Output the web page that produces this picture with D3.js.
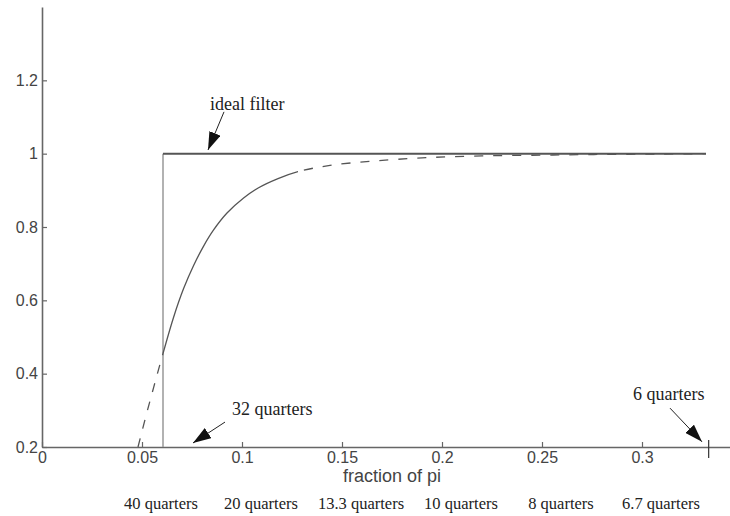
<!DOCTYPE html>
<html>
<head>
<meta charset="utf-8">
<script src="https://cdn.jsdelivr.net/npm/d3@7"></script>
<style>
  body { margin: 0; background: #fff; }
  svg { display: block; }
  .tick text { font-family: "Liberation Sans", Arial, sans-serif; font-size: 16px; fill: #444; }
  .note { font-family: "Liberation Serif", "Times New Roman", serif; font-size: 18px; fill: #222; }
  .period { font-size: 16.5px; }
</style>
</head>
<body>
<div id="graph"></div>
<script>
// Data
const freq = [0.048, 0.052, 0.0558, 0.0605, 0.0658, 0.0708, 0.0758, 0.0808, 0.0858, 0.0925, 0.1008, 0.1083, 0.118, 0.128, 0.144, 0.166, 0.192, 0.22, 0.25, 0.28, 0.31, 0.332];
const gain = [0.2, 0.285, 0.362, 0.455, 0.554, 0.632, 0.695, 0.748, 0.792, 0.838, 0.879, 0.907, 0.932, 0.951, 0.968, 0.980, 0.989, 0.994, 0.996, 0.998, 0.999, 1.0];
const idealFreq = [0.0605, 0.0605, 0.332];
const idealGain = [0.2, 1, 1];
const xTicks = [0, 0.05, 0.1, 0.15, 0.2, 0.25, 0.3];
const yTicks = [0.2, 0.4, 0.6, 0.8, 1, 1.2];
const periodFreq = [0.05, 0.1, 0.15, 0.2, 0.25, 0.3];
const periodLabels = ["40 quarters", "20 quarters", "13.3 quarters", "10 quarters", "8 quarters", "6.7 quarters"];
const solidFrom = 0.0605, solidTo = 0.128;

const W = 730, H = 516;
const margin = { top: 7, right: -12, bottom: 69, left: 42 };
const width = W - margin.left - margin.right;
const height = H - margin.top - margin.bottom;

const svg = d3.select("#graph")
  .append("svg")
  .attr("width", W)
  .attr("height", H);

const defs = svg.append("defs");
defs.append("marker")
  .attr("id", "head")
  .attr("markerUnits", "userSpaceOnUse")
  .attr("markerWidth", 18)
  .attr("markerHeight", 12)
  .attr("refX", 18)
  .attr("refY", 6)
  .attr("orient", "auto")
  .append("path")
  .attr("d", "M0,0L18,6L0,12Z")
  .attr("fill", "#111");

const g = svg.append("g")
  .attr("transform", `translate(${margin.left},${margin.top})`);

// Scales
const x = d3.scaleLinear().domain([0, 0.35]).range([0, width]);
const y = d3.scaleLinear().domain([0.2, 1.4]).range([height, 0]);

// Clip regions: solid part in the middle, dashed on both sides
const solidClip = defs.append("clipPath").attr("id", "solid");
solidClip.append("rect")
  .attr("x", margin.left + x(solidFrom)).attr("y", 0)
  .attr("width", x(solidTo) - x(solidFrom)).attr("height", H);
const dashClip = defs.append("clipPath").attr("id", "dash");
dashClip.append("rect")
  .attr("x", 0).attr("y", 0)
  .attr("width", margin.left + x(solidFrom)).attr("height", H);
dashClip.append("rect")
  .attr("x", margin.left + x(solidTo)).attr("y", 0)
  .attr("width", W).attr("height", H);

// Axes (ticks pointing inward)
const xAxis = g.append("g")
  .attr("transform", `translate(0,${height})`)
  .call(d3.axisBottom(x).tickValues(xTicks).tickFormat(d => String(d))
    .tickSizeInner(-5).tickSizeOuter(0).tickPadding(5));

const yAxis = g.append("g")
  .call(d3.axisLeft(y).tickValues(yTicks).tickFormat(d => String(d))
    .tickSizeInner(-5).tickSizeOuter(0).tickPadding(4));

[xAxis, yAxis].forEach(a => {
  a.select(".domain").attr("stroke", "#666").attr("stroke-width", 1.6);
  a.selectAll(".tick line").attr("stroke", "#666").attr("stroke-width", 1.2);
});

// Axis label
g.append("text")
  .attr("x", width / 2)
  .attr("y", height + 35)
  .attr("text-anchor", "middle")
  .style("font-family", "'Liberation Sans', Arial, sans-serif")
  .style("font-size", "18px")
  .style("fill", "#444")
  .text("fraction of pi");

// Period labels below the axis
g.selectAll(".period")
  .data(periodFreq)
  .enter()
  .append("text")
  .attr("class", "note period")
  .attr("x", d => x(d) + 19)
  .attr("y", height + 62)
  .attr("text-anchor", "middle")
  .text((d, i) => periodLabels[i]);

// Ideal filter
const pts = idealFreq.map((f, i) => [f, idealGain[i]]);
g.append("line")
  .attr("x1", x(pts[0][0])).attr("y1", y(pts[0][1]))
  .attr("x2", x(pts[1][0])).attr("y2", y(pts[1][1]))
  .attr("stroke", "#999").attr("stroke-width", 1.5);
g.append("line")
  .attr("x1", x(pts[1][0])).attr("y1", y(pts[1][1]))
  .attr("x2", x(pts[2][0])).attr("y2", y(pts[2][1]))
  .attr("stroke", "#555").attr("stroke-width", 2);

// Approximate filter gain, one smooth curve drawn solid and dashed
const curve = freq.map((f, i) => ({ f, v: gain[i] }));
const line = d3.line().x(d => x(d.f)).y(d => y(d.v)).curve(d3.curveCatmullRom.alpha(0.5));

svg.append("g").attr("clip-path", "url(#solid)")
  .append("path")
  .attr("transform", `translate(${margin.left},${margin.top})`)
  .attr("d", line(curve))
  .attr("fill", "none")
  .attr("stroke", "#555")
  .attr("stroke-width", 1.3);

svg.append("g").attr("clip-path", "url(#dash)")
  .append("path")
  .attr("transform", `translate(${margin.left},${margin.top})`)
  .attr("d", line(curve))
  .attr("fill", "none")
  .attr("stroke", "#555")
  .attr("stroke-width", 1.3)
  .attr("stroke-dasharray", "9,10");

// Mark at 6 quarters
g.append("line")
  .attr("x1", x(2 / 6)).attr("x2", x(2 / 6))
  .attr("y1", y(0.2) - 7).attr("y2", y(0.2) + 11)
  .attr("stroke", "#333").attr("stroke-width", 1.2);

// Annotations
const notes = [
  { text: "ideal filter", tx: 0.084, ty: 1.12, from: [0.091, 1.114], to: [0.083, 1.01] },
  { text: "32 quarters", tx: 0.095, ty: 0.287, from: [0.0915, 0.268], to: [0.0755, 0.211] },
  { text: "6 quarters", tx: 0.2955, ty: 0.328, from: [0.314, 0.306], to: [0.33, 0.214] }
];
notes.forEach(n => {
  g.append("text")
    .attr("class", "note")
    .attr("x", x(n.tx))
    .attr("y", y(n.ty))
    .text(n.text);
  g.append("line")
    .attr("x1", x(n.from[0])).attr("y1", y(n.from[1]))
    .attr("x2", x(n.to[0])).attr("y2", y(n.to[1]))
    .attr("stroke", "#222").attr("stroke-width", 1)
    .attr("marker-end", "url(#head)");
});
</script>
</body>
</html>
